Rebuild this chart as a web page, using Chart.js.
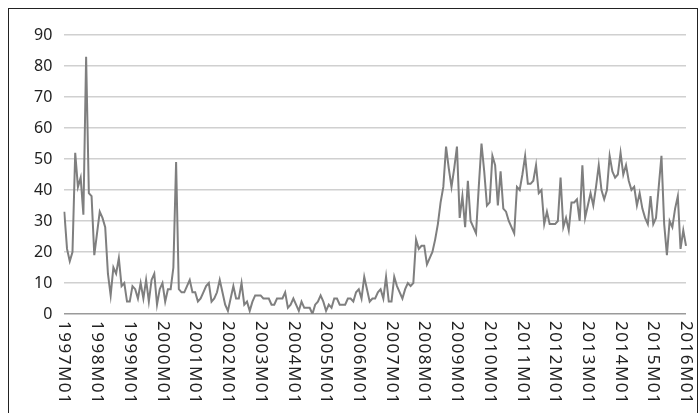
<!DOCTYPE html>
<html>
<head>
<meta charset="utf-8">
<script src="https://cdn.jsdelivr.net/npm/chart.js@4"></script>
<style>
  body { margin: 0; background: #fff; overflow: hidden; }
  #frame { position: absolute; left: 8px; top: 8px; width: 688px; height: 420px; border: 1px solid #222; }
  #wrap { position: absolute; left: 0; top: 0; width: 700px; height: 413px; }
</style>
</head>
<body>
<div id="frame"></div>
<div id="wrap"><canvas id="linechart"></canvas></div>
<script>
// monthly values, 1997M01 .. 2016M01
const values1997to2002 = [
    33, 21, 17, 20, 52, 41, 44, 32, 83, 39,
    38, 19, 26, 33, 31, 28, 13, 6, 15, 13,
    18, 9, 10, 4, 4, 9, 8, 5, 10, 5,
    11, 4, 11, 13, 3, 8, 10, 4, 8, 8,
    15, 49, 8, 7, 7, 9, 11, 7, 7, 4,
    5, 7, 9, 10, 4, 5, 7, 11, 7, 3,
    1, 5, 9, 5, 5, 10, 3, 4, 1, 4,
    6, 6, 6
];
const values2003to2008 = [
    5, 5, 5, 3, 3, 5, 5, 5, 7, 2,
    3, 5, 3, 1, 4, 2, 2, 2, 0, 3,
    4, 6, 4, 1, 3, 2, 5, 5, 3, 3,
    3, 5, 5, 4, 7, 8, 5, 12, 8, 4,
    5, 5, 7, 8, 5, 12, 4, 4, 12, 9,
    7, 5, 8, 10, 9, 10, 24, 21, 22, 22,
    16, 18, 20, 24, 29, 36
];
const values2009to2016 = [
    41, 54, 47, 41, 47, 54, 31, 38, 28, 43,
    30, 28, 26, 41, 55, 46, 35, 36, 51, 48,
    35, 46, 34, 33, 30, 28, 26, 41, 40, 45,
    51, 42, 42, 43, 48, 39, 40, 29, 33, 29,
    29, 29, 30, 44, 28, 31, 27, 36, 36, 37,
    30, 48, 31, 35, 39, 35, 41, 48, 40, 37,
    40, 51, 46, 44, 45, 52, 45, 48, 43, 40,
    41, 35, 39, 34, 31, 29, 38, 29, 31, 41,
    51, 29, 19, 30, 28, 34, 38, 21, 27, 22
];
const values = values1997to2002.concat(values2003to2008, values2009to2016);
const firstYear = 1997;
const yTicks = [0, 10, 20, 30, 40, 50, 60, 70, 80, 90];

const labels = values.map(function (v, i) {
    const y = firstYear + Math.floor(i / 12);
    const m = (i % 12) + 1;
    return y + 'M' + (m < 10 ? '0' + m : m);
});

const fontFamily = '"Noto Sans", "DejaVu Sans", sans-serif';

// x labels read top-to-bottom, so they are drawn here instead of by the axis
const downLabels = {
    id: 'downLabels',
    afterDraw: function (chart) {
        const ctx = chart.ctx;
        const xs = chart.scales.x;
        ctx.save();
        ctx.fillStyle = '#222';
        ctx.font = '17px ' + fontFamily;
        ctx.letterSpacing = '1.5px';
        ctx.textAlign = 'left';
        ctx.textBaseline = 'middle';
        labels.forEach(function (lab, i) {
            if (i % 12 !== 0) return;
            const x = xs.getPixelForValue(i);
            ctx.save();
            ctx.translate(x, chart.chartArea.bottom + 7);
            ctx.rotate(Math.PI / 2);
            ctx.fillText(lab, 0, 0);
            ctx.restore();
        });
        ctx.restore();
    }
};

new Chart(document.getElementById('linechart').getContext('2d'), {
    type: 'line',
    data: {
        labels: labels,
        datasets: [{
            data: values,
            borderColor: '#7f7f7f',
            borderWidth: 2,
            pointRadius: 0,
            tension: 0,
            fill: false
        }]
    },
    options: {
        responsive: true,
        maintainAspectRatio: false,
        animation: false,
        layout: { padding: { top: 35, right: 14, bottom: 91, left: 22 } },
        plugins: { legend: { display: false }, tooltip: { enabled: false } },
        scales: {
            x: {
                offset: false,
                grid: { display: false },
                border: { display: false },
                ticks: { display: false }
            },
            y: {
                min: 0,
                max: 90,
                afterBuildTicks: function (axis) {
                    axis.ticks = yTicks.map(function (v) { return { value: v }; });
                },
                grid: {
                    color: function (c) { return c.tick.value === 0 ? '#9a9a9a' : '#d0d0d0'; },
                    lineWidth: 1.5,
                    drawTicks: false
                },
                border: { display: false },
                ticks: { color: '#222', font: { family: fontFamily, size: 16 }, padding: 12 }
            }
        }
    },
    plugins: [downLabels]
});
</script>
</body>
</html>
